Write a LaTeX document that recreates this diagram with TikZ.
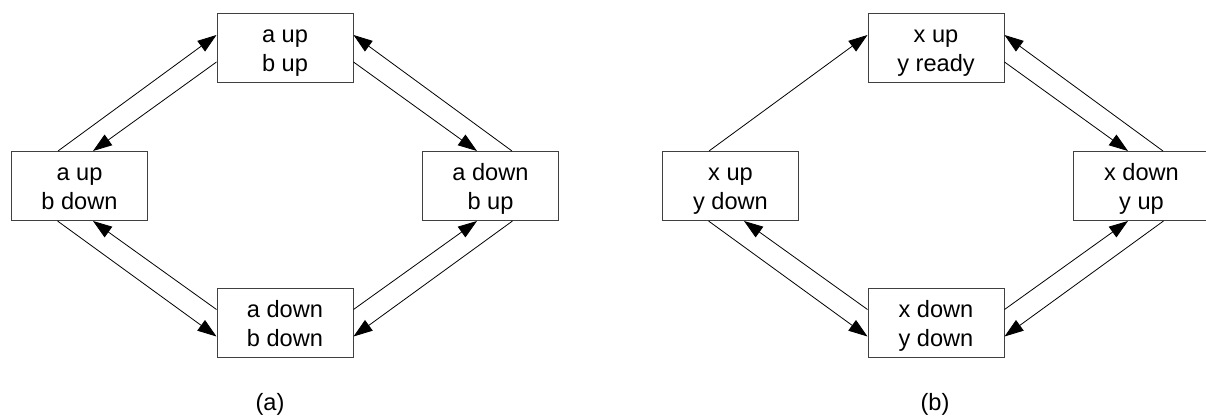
\documentclass[tikz,border=0pt]{standalone}
\usepackage{fontspec}
\setmainfont{Liberation Sans}
\usetikzlibrary{arrows.meta}
\newcommand{\twolines}[2]{\rule{0pt}{13pt}#1\\#2\strut}
\tikzset{
    state/.style={draw=black!75, line width=0.5pt, minimum width=68pt, minimum height=34.5pt,
        align=center, inner sep=0pt, font=\fontsize{11.8}{14.5}\selectfont},
    trans/.style={->, line width=0.4pt}
}
\begin{document}
\begin{tikzpicture}[x=0.5pt, y=-0.5pt, >={Triangle[length=9.5pt, width=6.5pt]}]
    \useasboundingbox (0,0) rectangle (1206,417);
    % (a)
    \node[state] (aUU) at (285,48.5) {\twolines{a up}{b up}};
    \node[state] (aUD) at (79.5,186) {\twolines{a up}{b down}};
    \node[state] (aDU) at (490.5,186) {\twolines{a down}{b up}};
    \node[state] (aDD) at (285,323) {\twolines{a down}{b down}};
    \node[font=\fontsize{11.8}{14.4}\selectfont] (alab) at (270,404) {(a)};
    \draw[trans] ([shift={(-21.5,0)}]aUD.north) -- ([shift={(0,-13.5)}]aUU.west);
    \draw[trans] ([shift={(0,13.5)}]aUU.west) -- ([shift={(13.5,0)}]aUD.north);
    \draw[trans] ([shift={(0,13.5)}]aUU.east) -- ([shift={(-13.5,0)}]aDU.north);
    \draw[trans] ([shift={(21.5,0)}]aDU.north) -- ([shift={(0,-13.5)}]aUU.east);
    \draw[trans] ([shift={(-22,0)}]aUD.south) -- ([shift={(0,13.5)}]aDD.west);
    \draw[trans] ([shift={(0,-13.5)}]aDD.west) -- ([shift={(13.5,0)}]aUD.south);
    \draw[trans] ([shift={(0,-13.5)}]aDD.east) -- ([shift={(-13.5,0)}]aDU.south);
    \draw[trans] ([shift={(22,0)}]aDU.south) -- ([shift={(0,13.5)}]aDD.east);
    % (b)
    \node[state] (bUR) at (936,48.5) {\twolines{x up}{y ready}};
    \node[state] (bUD) at (730.5,186) {\twolines{x up}{y down}};
    \node[state] (bDU) at (1141.5,186) {\twolines{x down}{y up}};
    \node[state] (bDD) at (936,323) {\twolines{x down}{y down}};
    \node[font=\fontsize{11.8}{14.4}\selectfont] (blab) at (935,404) {(b)};
    \draw[trans] ([shift={(-21.5,0)}]bUD.north) -- ([shift={(0,-13.5)}]bUR.west);
    \draw[trans] ([shift={(0,13.5)}]bUR.east) -- ([shift={(-13.5,0)}]bDU.north);
    \draw[trans] ([shift={(21.5,0)}]bDU.north) -- ([shift={(0,-13.5)}]bUR.east);
    \draw[trans] ([shift={(-22,0)}]bUD.south) -- ([shift={(0,13.5)}]bDD.west);
    \draw[trans] ([shift={(0,-13.5)}]bDD.west) -- ([shift={(13.5,0)}]bUD.south);
    \draw[trans] ([shift={(0,-13.5)}]bDD.east) -- ([shift={(-13.5,0)}]bDU.south);
    \draw[trans] ([shift={(22,0)}]bDU.south) -- ([shift={(0,13.5)}]bDD.east);
\end{tikzpicture}
\end{document}
